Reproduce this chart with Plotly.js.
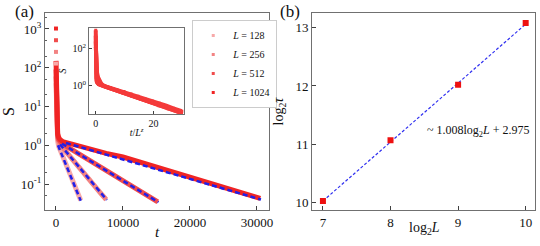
<!DOCTYPE html>
<html><head><meta charset="utf-8">
<script src="https://cdn.plot.ly/plotly-3.0.1.min.js"></script>
<style>html,body{margin:0;padding:0;background:#fff}#chart{width:540px;height:246px}</style>
</head><body><div id="chart"></div>
<script>
// ---- data ----
const Ls = [128, 256, 512, 1024];
const legendNames = ["<i>L</i> = 128", "<i>L</i> = 256", "<i>L</i> = 512", "<i>L</i> = 1024"];
const xTickVals = [0, 10000, 20000, 30000];
const xTickText = ["0", "10000", "20000", "30000"];
// initial values at t = 0
const t0 = [0, 0, 0, 0];
const s0 = [128, 256, 512, 1024];
// decay curves S(t)
const t128 = [10, 30, 60, 100, 150, 250, 400, 800, 1200, 1600, 2000, 2400, 2800, 3200, 3700];
const s128 = [40, 12, 5, 3, 2, 1.3, 0.95, 0.64, 0.43, 0.29, 0.19, 0.13, 0.086, 0.058, 0.038];
const t256 = [10, 30, 60, 100, 150, 250, 400, 600, 1500, 2500, 3500, 4500, 5500, 6500, 7500];
const s256 = [60, 15, 6, 3.5, 2.3, 1.6, 1.25, 1.05, 0.69, 0.42, 0.26, 0.16, 0.10, 0.063, 0.040];
const t512 = [10, 30, 60, 100, 150, 250, 400, 600, 900, 2500, 5000, 7500, 10000, 12500, 15200];
const s512 = [90, 20, 7, 4, 2.6, 1.8, 1.4, 1.2, 1.1, 0.75, 0.41, 0.23, 0.13, 0.068, 0.035];
const t1024 = [10, 30, 60, 100, 150, 250, 400, 600, 1000, 1500, 3000, 5000, 7500, 10000, 12500, 15000, 17500, 20000, 22500, 25000, 27500, 30500];
const s1024 = [150, 30, 9, 5, 3, 2, 1.6, 1.4, 1.25, 1.18, 1.0, 0.8, 0.62, 0.5, 0.37, 0.28, 0.2, 0.155, 0.115, 0.085, 0.062, 0.043];
// exponential fits (blue dashed)
const fitT128 = [300, 3700],  fitS128 = [1.0, 0.037];
const fitT256 = [600, 7600],  fitS256 = [1.05, 0.039];
const fitT512 = [900, 15300], fitS512 = [1.1, 0.034];
const fitT1024 = [1500, 30600], fitS1024 = [1.15, 0.040];
const zExp = 1.0;
// panel (b)
const log2L = [7, 8, 9, 10];
const log2tau = [10.03, 11.07, 12.02, 13.08];
const fitLogL = [7, 10];
const fitLogTau = [10.03, 13.06];

const colors = ["#f7a9a9", "#f28383", "#f04c4c", "#f02424"];
const tArr = [t128, t256, t512, t1024];
const sArr = [s128, s256, s512, s1024];
const fitT = [fitT128, fitT256, fitT512, fitT1024];
const fitS = [fitS128, fitS256, fitS512, fitS1024];

const serif = "Liberation Serif, Times New Roman, serif";
const traces = [];
for (let i = 0; i < 4; i++) {
  traces.push({x: tArr[i], y: sArr[i], type: "scatter", mode: "lines",
    line: {color: colors[i], width: 5}, showlegend: false, xaxis: "x", yaxis: "y", hoverinfo: "skip"});
}
traces.push({x: t0, y: s0, type: "scatter", mode: "markers",
  marker: {symbol: "square", size: 4, color: colors}, showlegend: false, xaxis: "x", yaxis: "y"});
for (let i = 0; i < 4; i++) {
  traces.push({x: fitT[i], y: fitS[i], type: "scatter", mode: "lines",
    line: {color: "#2020e8", width: 2.5, dash: "5px,3px"}, showlegend: false, xaxis: "x", yaxis: "y"});
}
for (let i = 0; i < 4; i++) {
  traces.push({x: [null], y: [null], type: "scatter", mode: "markers", name: legendNames[i],
    marker: {symbol: "square", size: 3, color: colors[i]}, xaxis: "x", yaxis: "y"});
}
for (let i = 0; i < 4; i++) {
  const L = Ls[i];
  const xs = [0].concat(tArr[i].map(t => t / Math.pow(L, zExp)));
  const ys = [s0[i]].concat(sArr[i]);
  traces.push({x: xs, y: ys, type: "scatter", mode: "lines+markers",
    line: {color: "#f43a3a", width: 4}, marker: {symbol: "square", size: 3, color: "#f43a3a"},
    showlegend: false, xaxis: "x3", yaxis: "y3"});
}
traces.push({x: fitLogL, y: fitLogTau, type: "scatter", mode: "lines",
  line: {color: "#3030f0", width: 1.2, dash: "3px,2px"}, showlegend: false, xaxis: "x2", yaxis: "y2"});
traces.push({x: log2L, y: log2tau, type: "scatter", mode: "markers",
  marker: {symbol: "square", size: 6, color: "#ee1010"}, showlegend: false, xaxis: "x2", yaxis: "y2"});

const frame = {showline: true, mirror: true, linecolor: "#707070", linewidth: 1, ticks: "inside",
  ticklen: 4, tickcolor: "#404040", showgrid: false, zeroline: false, tickfont: {family: serif, size: 13, color: "#111"}};

const layout = {
  width: 540, height: 246, margin: {l: 0, r: 0, t: 0, b: 0},
  paper_bgcolor: "#fff", plot_bgcolor: "#fff",
  font: {family: serif, color: "#111"},
  xaxis: Object.assign({}, frame, {domain: [0.0833, 0.498], range: [-1640, 31790],
    tickvals: xTickVals, ticktext: xTickText, anchor: "y"}),
  yaxis: Object.assign({}, frame, {domain: [0.146, 0.947], type: "log", range: [-1.67, 3.41], anchor: "x",
    tickvals: [0.1, 1, 10, 100, 1000],
    ticktext: ["10<sup>-1</sup>", "10<sup>0</sup>", "10<sup>1</sup>", "10<sup>2</sup>", "10<sup>3</sup>"],
    minor: {ticks: "inside", ticklen: 2, tickcolor: "#606060"},
    title: {text: "S", font: {family: serif, size: 16}, standoff: 4}}),
  xaxis2: Object.assign({}, frame, {domain: [0.578, 0.991], range: [6.84, 10.14], anchor: "y2",
    tickvals: [7, 8, 9, 10]}),
  yaxis2: Object.assign({}, frame, {domain: [0.146, 0.947], range: [9.874, 13.25], anchor: "x2",
    tickvals: [10, 11, 12, 13],
    title: {text: "log<sub>2</sub><i>τ</i>", font: {family: serif, size: 14}, standoff: 8}}),
  xaxis3: Object.assign({}, frame, {domain: [0.165, 0.341], range: [-2.3, 30.6], anchor: "y3",
    tickvals: [0, 20], ticklen: 3, tickfont: {family: serif, size: 10, color: "#111"},
    title: {text: "<i>t</i>/<i>L</i><sup><i>z</i></sup>", font: {family: serif, size: 10}, standoff: 1}}),
  yaxis3: Object.assign({}, frame, {domain: [0.537, 0.886], type: "log", range: [-1.51, 3.13], anchor: "x3",
    tickvals: [1, 100], ticktext: ["10<sup>0</sup>", "10<sup>2</sup>"], ticklen: 3,
    tickfont: {family: serif, size: 10, color: "#111"},
    title: {text: "<i>S</i>", font: {family: serif, size: 10}, standoff: 4}}),
  legend: {x: 0.356, y: 0.919, xanchor: "left", yanchor: "top", bgcolor: "#fff",
    bordercolor: "#cccccc", borderwidth: 1, font: {family: serif, size: 10, color: "#111"},
    itemwidth: 30, tracegroupgap: 0},
  annotations: [
    {text: "(a)", x: 0.045, y: 1.0, xref: "paper", yref: "paper", xanchor: "center", yanchor: "top",
      showarrow: false, font: {family: serif, size: 17, color: "#111"}},
    {text: "(b)", x: 0.537, y: 1.0, xref: "paper", yref: "paper", xanchor: "center", yanchor: "top",
      showarrow: false, font: {family: serif, size: 17, color: "#111"}},
    {text: "<i>t</i>", x: 157/540, y: 1 - 232/246, xref: "paper", yref: "paper", xanchor: "center",
      yanchor: "middle", showarrow: false, font: {family: serif, size: 15, color: "#111"}},
    {text: "log<sub>2</sub><i>L</i>", x: 424/540, y: 1 - 228/246, xref: "paper", yref: "paper", xanchor: "center",
      yanchor: "middle", showarrow: false, font: {family: serif, size: 14, color: "#111"}},
    {text: "~ 1.008log<sub>2</sub><i>L</i> + 2.975", x: 0.885, y: 1 - 131/246, xref: "paper", yref: "paper",
      xanchor: "center", yanchor: "middle", showarrow: false, font: {family: serif, size: 12, color: "#111"}}
  ]
};
Plotly.newPlot("chart", traces, layout, {displayModeBar: false, staticPlot: true});
</script></body></html>
